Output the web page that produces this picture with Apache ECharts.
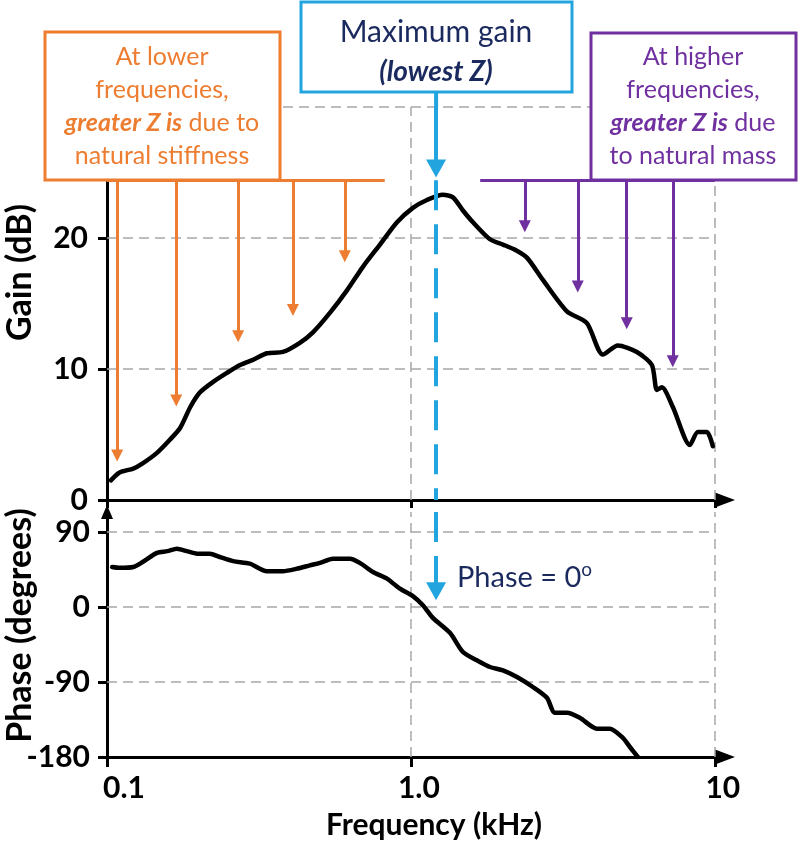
<!DOCTYPE html>
<html><head><meta charset="utf-8">
<script src="https://cdn.jsdelivr.net/npm/echarts@6/dist/echarts.min.js"></script>
<style>html,body{margin:0;padding:0;background:#fff}#c{width:800px;height:845px}</style>
</head><body><div id="c"></div>
<script>
// ---------- data ----------
const freqTicks = [0.1, 1, 10];
const freqTickLabels = ['0.1', '1.0', '10'];
const gainTicks = [0, 10, 20];
const gainGrid = [10, 20, 30];
const phaseTicks = [-180, -90, 0, 90];
const phaseGrid = [-90, 0, 90];

const gainFreq = [0.103, 0.110, 0.122, 0.131, 0.146, 0.161, 0.174, 0.188, 0.202, 0.223, 0.248, 0.274, 0.302, 0.336, 0.379, 0.431, 0.476, 0.542, 0.616, 0.695, 0.791, 0.900, 1.015, 1.129, 1.274, 1.375, 1.483, 1.600, 1.820, 2.008, 2.200, 2.408, 2.718, 3.261, 3.793, 4.281, 4.797, 5.539, 6.206, 6.445, 6.693, 7.274, 8.276, 8.794, 9.413, 9.849];
const gainDb   = [1.5, 2.1, 2.4, 2.8, 3.6, 4.6, 5.5, 7.1, 8.2, 9.0, 9.7, 10.3, 10.7, 11.2, 11.3, 12.0, 12.8, 14.3, 16.0, 17.8, 19.5, 21.2, 22.3, 22.9, 23.3, 23.1, 22.1, 21.2, 19.9, 19.5, 19.1, 18.5, 16.8, 14.4, 13.5, 11.1, 11.8, 11.3, 10.3, 8.4, 8.6, 7.1, 4.2, 5.2, 5.2, 4.1];

const phaseFreq = [0.104, 0.110, 0.122, 0.131, 0.146, 0.158, 0.170, 0.183, 0.198, 0.218, 0.235, 0.260, 0.295, 0.336, 0.379, 0.422, 0.465, 0.502, 0.554, 0.630, 0.679, 0.750, 0.834, 0.920, 1.015, 1.095, 1.181, 1.344, 1.483, 1.649, 1.820, 2.008, 2.233, 2.519, 2.802, 2.977, 3.261, 3.596, 4.091, 4.514, 4.983, 5.254, 5.580];
const phaseDeg  = [48, 47, 48, 54, 65, 67, 70, 67, 64, 64, 60, 55, 52, 43, 43, 46, 50, 53, 58, 58, 53, 42, 34, 22, 13, 2, -13, -31, -54, -64, -72, -76, -84, -96, -109, -127, -127, -133, -146, -146, -157, -168, -180];

// annotation anchors (data units)
const peakFreq = 1.21;
const calloutLevel = 24.4;
const lowArrowFreq = [0.108, 0.169, 0.270, 0.409, 0.606];
const lowArrowHead = [3.4, 7.6, 12.5, 14.5, 18.6];
const lowRailEnd = 0.82;
const highArrowFreq = [2.37, 3.54, 5.13, 7.27];
const highArrowHead = [20.9, 16.3, 13.5, 10.6];
const highRailStart = 1.69;
const peakArrowHead = 25.3;
const phaseArrowHead = 19;

// ---------- styles ----------
const FF = 'Lato';
const ORANGE = '#ED7D31', PURPLE = '#7030A0', BLUE = '#22A5DF', NAVY = '#1b2a5e';
const GRID_LS = {color: '#a6a6a6', width: 1.5, type: [10, 6]};
const AX_LS = {color: '#000', width: 3};

const chart = echarts.init(document.getElementById('c'), null, {renderer: 'canvas'});

function gridLines(xs, ys, xMin, xMax) {
  const d = [];
  xs.forEach(x => d.push({xAxis: x}));
  ys.forEach(y => d.push([{coord: [xMin, y]}, {coord: [xMax, y]}]));
  return d;
}
function arrow(f, from, to, color, size, width, dashed) {
  return [
    {coord: [f, from], symbol: 'none', lineStyle: {color: color, width: width, type: dashed ? [30, 14] : 'solid'}},
    {coord: [f, to], symbol: 'triangle', symbolSize: size}
  ];
}
function rail(f1, f2, y, color) {
  return [{coord: [f1, y], symbol: 'none', lineStyle: {color: color, width: 3, type: 'solid'}}, {coord: [f2, y], symbol: 'none'}];
}

const topAnno = [];
lowArrowFreq.forEach((f, i) => topAnno.push(arrow(f, calloutLevel, lowArrowHead[i], ORANGE, [12, 12], 3)));
topAnno.push(rail(freqTicks[0], lowRailEnd, calloutLevel, ORANGE));
highArrowFreq.forEach((f, i) => topAnno.push(arrow(f, calloutLevel, highArrowHead[i], PURPLE, [12, 12], 3)));
topAnno.push(rail(highRailStart, freqTicks[2], calloutLevel, PURPLE));
topAnno.push(arrow(peakFreq, 30, peakArrowHead, BLUE, [20, 18], 4));
topAnno.push([{coord: [peakFreq, calloutLevel], symbol: 'none', lineStyle: {color: BLUE, width: 4, type: [30, 14]}}, {coord: [peakFreq, 0], symbol: 'none'}]);

const botAnno = [arrow(peakFreq, 114, phaseArrowHead, BLUE, [20, 18], 4, true)];

const xLabelFmt = v => {
  const l = Math.log10(v);
  if (Math.abs(l - Math.round(l)) > 1e-6) return '';
  const i = freqTicks.findIndex(t => Math.abs(t - v) < 1e-9 * Math.max(1, t));
  if (i < 0) return '';
  return i === 0 ? '{s|' + freqTickLabels[i] + '}' : freqTickLabels[i];
};

const labelStyle = {color: '#000', fontFamily: FF, fontWeight: 'bold', fontSize: 30};

const option = {
  animation: false,
  backgroundColor: '#fff',
  grid: [
    {left: 107, top: 107, width: 618, height: 393, containLabel: false, outerBoundsMode: 'none'},
    {left: 107, top: 512, width: 618, height: 245, containLabel: false, outerBoundsMode: 'none'}
  ],
  xAxis: [
    {gridIndex: 0, type: 'log', logBase: 10, min: 0.1, max: 10.8,
     axisLine: {show: true, onZero: false, symbol: ['none', 'triangle'], symbolSize: [15, 20], lineStyle: AX_LS},
     axisTick: {show: true, customValues: freqTicks, length: 8, lineStyle: AX_LS},
     axisLabel: {show: false}, splitLine: {show: false}, minorTick: {show: false}},
    {gridIndex: 1, type: 'log', logBase: 10, min: 0.1, max: 10.8,
     axisLine: {show: true, onZero: false, symbol: ['none', 'triangle'], symbolSize: [15, 20], lineStyle: AX_LS},
     axisTick: {show: true, customValues: freqTicks, length: 10, lineStyle: AX_LS},
     axisLabel: Object.assign({show: true, margin: 16, formatter: xLabelFmt, padding: [0, 0, 0, 16],
       rich: {s: Object.assign({padding: [0, 0, 0, 18]}, labelStyle)}}, labelStyle),
     splitLine: {show: false}, minorTick: {show: false},
     name: 'Frequency (kHz)', nameLocation: 'middle', nameGap: 53, nameMoveOverlap: false,
     nameTextStyle: {color: '#000', fontFamily: FF, fontWeight: 'bold', fontSize: 30, padding: [0, 0, 0, 36]}}
  ],
  yAxis: [
    {gridIndex: 0, type: 'value', min: 0, max: 30, interval: 10,
     axisLine: {show: true, onZero: false, lineStyle: AX_LS},
     axisTick: {show: true, length: 9, lineStyle: AX_LS},
     axisLabel: Object.assign({show: true, customValues: gainTicks, margin: 19}, labelStyle),
     splitLine: {show: false},
     name: 'Gain (dB)', nameLocation: 'middle', nameGap: 70, nameMoveOverlap: false,
     nameTextStyle: {color: '#000', fontFamily: FF, fontWeight: 'bold', fontSize: 34, padding: [0, 0, 0, 62]}},
    {gridIndex: 1, type: 'value', min: -180, max: 114, interval: 90,
     axisLine: {show: true, onZero: false, symbol: ['none', 'triangle'], symbolSize: [12, 14], lineStyle: AX_LS},
     axisTick: {show: true, customValues: phaseTicks, length: 9, lineStyle: AX_LS},
     axisLabel: Object.assign({show: true, customValues: phaseTicks, margin: 17}, labelStyle),
     splitLine: {show: false},
     name: 'Phase (degrees)', nameLocation: 'middle', nameGap: 70, nameMoveOverlap: false,
     nameTextStyle: {color: '#000', fontFamily: FF, fontWeight: 'bold', fontSize: 34, padding: [0, 0, 0, 18]}}
  ],
  series: [
    {type: 'line', name: 'gridTop', xAxisIndex: 0, yAxisIndex: 0, data: [], silent: true,
     markLine: {silent: true, z: 1, symbol: 'none', label: {show: false}, lineStyle: GRID_LS, emphasis: {disabled: true},
       data: gridLines([freqTicks[1], freqTicks[2]], gainGrid, freqTicks[0], freqTicks[2])}},
    {type: 'line', name: 'gridBottom', xAxisIndex: 1, yAxisIndex: 1, data: [], silent: true,
     markLine: {silent: true, z: 1, symbol: 'none', label: {show: false}, lineStyle: GRID_LS, emphasis: {disabled: true},
       data: gridLines([freqTicks[1], freqTicks[2]], phaseGrid, freqTicks[0], freqTicks[2])}},
    {type: 'line', name: 'Gain', xAxisIndex: 0, yAxisIndex: 0, z: 3,
     data: gainFreq.map((f, i) => [f, gainDb[i]]), showSymbol: false, smooth: 0.25,
     lineStyle: {color: '#000', width: 4.5, cap: 'round', join: 'round'}},
    {type: 'line', name: 'Phase', xAxisIndex: 1, yAxisIndex: 1, z: 3,
     data: phaseFreq.map((f, i) => [f, phaseDeg[i]]), showSymbol: false, smooth: 0.25,
     lineStyle: {color: '#000', width: 4.5, cap: 'round', join: 'round'}},
    {type: 'line', name: 'annoTop', xAxisIndex: 0, yAxisIndex: 0, data: [], silent: true,
     markLine: {silent: true, z: 6, symbol: 'none', label: {show: false}, emphasis: {disabled: true}, data: topAnno}},
    {type: 'line', name: 'annoBottom', xAxisIndex: 1, yAxisIndex: 1, data: [], silent: true,
     markLine: {silent: true, z: 6, symbol: 'none', label: {show: false}, emphasis: {disabled: true}, data: botAnno}}
  ]
};
chart.setOption(option);

function rs(color, size, bold, lh) {
  return {fill: color, fontFamily: FF, fontSize: size, fontWeight: bold ? 'bold' : 'normal', fontStyle: bold ? 'italic' : 'normal', lineHeight: lh};
}
const peakTop = chart.convertToPixel({xAxisIndex: 0, yAxisIndex: 0}, [peakFreq, 30]);

chart.setOption({
  graphic: [
    {type: 'line', z: 90, shape: {x1: peakTop[0], y1: 92, x2: peakTop[0], y2: peakTop[1] + 1}, style: {stroke: BLUE, lineWidth: 4}},
    {type: 'rect', z: 100, shape: {x: 45, y: 32, width: 235, height: 148}, style: {fill: '#fff', stroke: ORANGE, lineWidth: 3}},
    {type: 'text', z: 101, x: 162, y: 40, style: {
      text: '{r|At lower}\n{r|frequencies,}\n{b|greater Z is}{r| due to}\n{r|natural stiffness}',
      align: 'center', verticalAlign: 'top', fill: ORANGE, fontFamily: FF, fontSize: 25, lineHeight: 33,
      rich: {r: rs(ORANGE, 25, false, 33), b: rs(ORANGE, 25, true, 33)}}},
    {type: 'rect', z: 100, shape: {x: 591, y: 33, width: 205, height: 147}, style: {fill: '#fff', stroke: PURPLE, lineWidth: 3}},
    {type: 'text', z: 101, x: 693, y: 40, style: {
      text: '{r|At higher}\n{r|frequencies,}\n{b|greater Z is}{r| due}\n{r|to natural mass}',
      align: 'center', verticalAlign: 'top', fill: PURPLE, fontFamily: FF, fontSize: 25, lineHeight: 33,
      rich: {r: rs(PURPLE, 25, false, 33), b: rs(PURPLE, 25, true, 33)}}},
    {type: 'rect', z: 100, shape: {x: 301, y: 2, width: 271, height: 90}, style: {fill: '#fff', stroke: BLUE, lineWidth: 3}},
    {type: 'text', z: 101, x: 436, y: 12, style: {
      text: '{m|Maximum gain}\n{b|(lowest Z)}',
      align: 'center', verticalAlign: 'top', fill: NAVY, fontFamily: FF, fontSize: 30, lineHeight: 40,
      rich: {m: rs(NAVY, 30, false, 40), b: rs(NAVY, 28, true, 40)}}},
    {type: 'text', z: 101, x: 457, y: 578, style: {
      text: '{p|Phase = 0}{s|o}',
      align: 'left', verticalAlign: 'middle', fill: NAVY, fontFamily: FF, fontSize: 29, lineHeight: 36,
      rich: {p: rs(NAVY, 29, false, 36), s: Object.assign(rs(NAVY, 19, false, 22), {verticalAlign: 'top'})}}}
  ]
});
</script>
</body></html>
